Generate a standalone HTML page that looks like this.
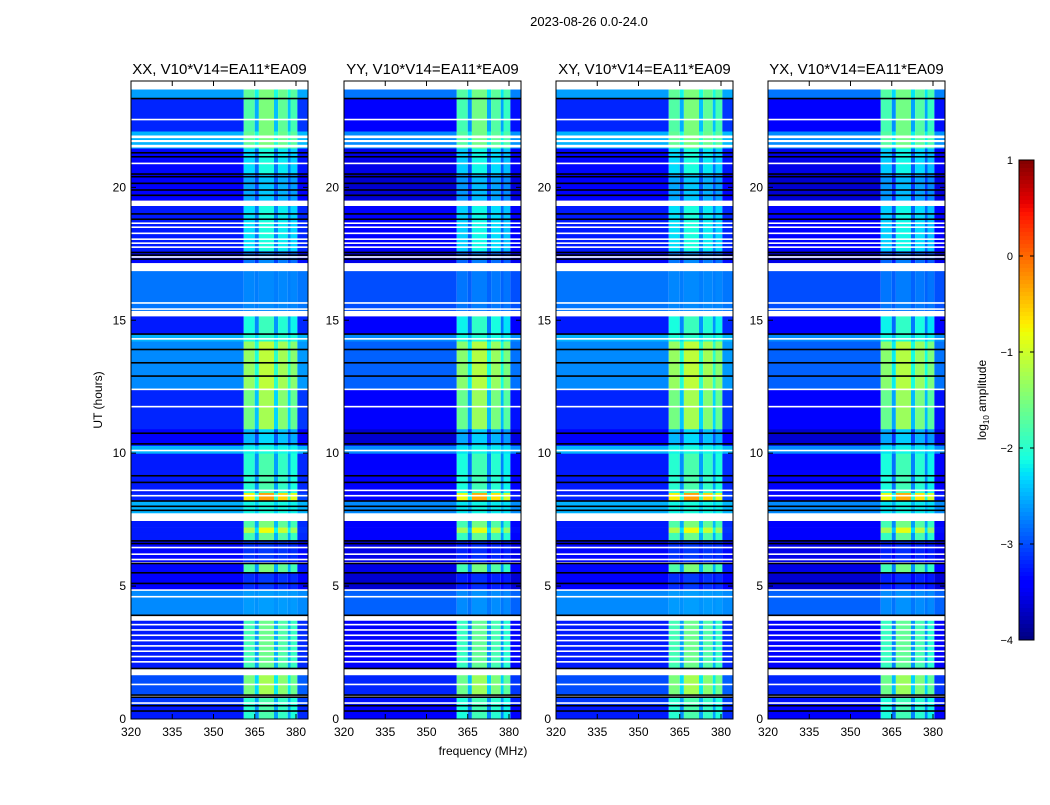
<!DOCTYPE html>
<html><head><meta charset="utf-8"><style>
body{margin:0;background:#fff;font-family:"Liberation Sans",sans-serif;}
svg text{font-family:"Liberation Sans",sans-serif;fill:#000;}
</style></head><body>
<svg id="chart" width="1050" height="800" viewBox="0 0 1050 800">
<text x="589" y="26" font-size="13" text-anchor="middle">2023-08-26 0.0-24.0</text>
<text x="483" y="755" font-size="12" text-anchor="middle">frequency (MHz)</text>
<text transform="translate(102,400) rotate(-90)" font-size="12" text-anchor="middle">UT (hours)</text>
<g id="panels"></g>
<g id="cbar"></g>
</svg>
<script>
// time segments: [startHour, endHour, offBandLog, inBandLog]
const segments = [
 [23.34,23.68,-2.6,-1.5],[22.1,23.34,-3.2,-1.5],[21.46,22.1,-2.5,-1.5],[20.5,21.46,-3.35,-2.1],
 [19.5,20.5,-3.45,-2.4],[17.6,19.3,-3.25,-2.1],[17.15,17.6,-3.35,-2.7],[15.35,16.85,-2.8,-2.7],
 [14.48,15.15,-3.25,-1.9],[14.2,14.48,-2.5,-2.0],[12.4,14.2,-2.7,-1.1],[10.9,12.4,-3.2,-1.25],
 [10.28,10.9,-3.45,-2.3],[9.98,10.28,-2.5,-2.1],[8.5,9.98,-3.25,-1.8],[8.2,8.5,-3.2,-0.3],
 [7.75,8.2,-2.5,-2.1],[7.2,7.45,-3.25,-1.5],[7.0,7.2,-3.25,-0.8],[6.7,7.0,-3.25,-1.6],
 [5.85,6.7,-3.35,-3.1],[5.5,5.85,-3.35,-1.5],[4.85,5.5,-3.45,-3.1],[3.9,4.85,-2.7,-2.6],
 [1.9,3.7,-3.25,-1.6],[0.9,1.65,-3.0,-1.25],[0.5,0.8,-3.1,-1.8],[0.0,0.5,-3.25,-1.8]
];
// fully flagged (white) intervals [start,end]
const whiteBands = [[23.68,24],[21.5,21.6],[21.7,21.78],[21.85,21.95],[19.3,19.5],[17.0,17.15],[16.85,16.95],[15.15,15.35],[7.45,7.65],[3.7,3.9],[1.65,1.8],[5.85,5.9]];
// thin flag lines [hour, colour]
const flagLines = [[23.34,'k'],[22.55,'w'],[21.3,'k'],[21.15,'k'],[20.9,'w'],[20.5,'k'],[20.4,'k'],[20.15,'k'],[19.9,'k'],[19.7,'k'],
 [19.0,'k'],[18.8,'k'],[18.65,'w'],[18.5,'w'],[18.27,'w'],[18.05,'w'],[17.9,'w'],[17.75,'w'],[17.55,'k'],[17.45,'k'],[17.3,'k'],[17.38,'w'],
 [15.65,'w'],[15.42,'w'],[14.48,'k'],[14.3,'w'],[13.9,'k'],[13.4,'k'],[12.9,'k'],[12.4,'w'],[11.75,'w'],[10.75,'k'],[10.35,'k'],[10.1,'w'],
 [9.15,'k'],[8.9,'k'],[8.6,'w'],[8.4,'w'],[8.2,'k'],[8.0,'k'],[7.85,'k'],[6.7,'k'],[6.6,'k'],[6.45,'w'],[6.2,'w'],[6.0,'w'],[5.85,'k'],[5.5,'k'],[5.1,'k'],
 [4.85,'w'],[4.6,'w'],[3.9,'k'],[3.55,'w'],[3.35,'w'],[3.15,'w'],[2.95,'w'],[2.75,'w'],[2.55,'w'],[2.35,'w'],[2.15,'w'],[1.9,'k'],[1.3,'w'],
 [0.9,'k'],[0.82,'k'],[0.5,'k'],[0.3,'k'],[0.6,'w']];
// frequency channels [startMHz,endMHz,bandWeight]
const channels = [[320,361,0],[361,365,0.85],[365,366.5,0.4],[366.5,372,1],[372,373.5,0.45],[373.5,377,0.9],[377,378,0.45],[378,380.5,0.8],[380.5,384.4,0.05]];
const panelNames = ['XX','YY','XY','YX'];
const panelShift = [0,-0.2,0,-0.2];
const panelLeft = [131,344,556,768];
const xTicks = [320,335,350,365,380];
const yTicks = [0,5,10,15,20];
const cbTicks = [1,0,-1,-2,-3,-4];

const NS='http://www.w3.org/2000/svg';
const PW=177, TOP=81, BOT=719;
const yOf = t => BOT - t*(BOT-TOP)/24;
function interp(pts,t){for(let i=1;i<pts.length;i++){if(t<=pts[i][0]){const a=pts[i-1],b=pts[i];return a[1]+(b[1]-a[1])*(t-a[0])/(b[0]-a[0]);}}return pts[pts.length-1][1];}
const JR=[[0,0],[0.35,0],[0.66,1],[0.89,1],[1,0.5]],JG=[[0,0],[0.125,0],[0.375,1],[0.64,1],[0.91,0],[1,0]],JB=[[0,0.5],[0.11,1],[0.34,1],[0.65,0],[1,0]];
function jet(v){const t=Math.max(0,Math.min(1,(v+4)/5));
 return `rgb(${Math.round(interp(JR,t)*255)},${Math.round(interp(JG,t)*255)},${Math.round(interp(JB,t)*255)})`;}
function mk(tag,attrs,parent){const e=document.createElementNS(NS,tag);for(const k in attrs)e.setAttribute(k,attrs[k]);parent.appendChild(e);return e;}
const root=document.getElementById('panels');
panelNames.forEach((nm,p)=>{
 const L=panelLeft[p]; const xOf=f=>L+(f-320)*2.75;
 const g=mk('g',{},root);
 
 
 mk('rect',{x:L,y:TOP,width:PW,height:BOT-TOP,fill:'#fff'},g);
 segments.forEach(s=>{
  channels.forEach(c=>{
   const base=s[2]+panelShift[p], band=s[3]+panelShift[p]*0.3;
   const v=base+c[2]*(band-base);
   const r=mk('rect',{x:xOf(c[0]),y:yOf(s[1]),width:xOf(Math.min(c[1],384.4))-xOf(c[0]),height:yOf(s[0])-yOf(s[1])+0.3,fill:jet(v)},g);
   
   
  });
 });
 whiteBands.forEach(w=>{const r=mk('rect',{x:L,y:yOf(w[1]),width:PW,height:yOf(w[0])-yOf(w[1]),fill:'#fff'},g);
  
  });
 flagLines.forEach(f=>{const r=mk('rect',{x:L,y:yOf(f[0])-0.8,width:PW,height:1.6,fill:f[1]==='k'?'#000':'#fff'},g);
  
  });
 mk('rect',{x:L,y:TOP,width:PW,height:BOT-TOP,fill:'none',stroke:'#000','stroke-width':1},g);
 const ttl=mk('text',{x:L+PW/2,y:74,'font-size':15,'text-anchor':'middle'},g);ttl.textContent=nm+', V10*V14=EA11*EA09';
 
 
 xTicks.forEach(f=>{const x=xOf(f);
  mk('line',{x1:x,x2:x,y1:BOT,y2:BOT-5,stroke:'#000'},g);mk('line',{x1:x,x2:x,y1:TOP,y2:TOP+5,stroke:'#000'},g);
  const t=mk('text',{x:x,y:BOT+17,'font-size':12,'text-anchor':'middle'},g);t.textContent=f;
  
  });
 yTicks.forEach(h=>{const y=yOf(h);
  mk('line',{x1:L,x2:L+5,y1:y,y2:y,stroke:'#000'},g);mk('line',{x1:L+PW,x2:L+PW-5,y1:y,y2:y,stroke:'#000'},g);
  const t=mk('text',{x:L-5,y:y+4,'font-size':12,'text-anchor':'end'},g);t.textContent=h;
  
  });
});
// colorbar
const cb=document.getElementById('cbar');


const CT=160,CB=640,CX=1019,CW=15;
for(let i=0;i<120;i++){const v=1-5*i/120;mk('rect',{x:CX,y:CT+i*4,width:CW,height:4.3,fill:jet(v-5/240)},cb);}
mk('rect',{x:CX,y:CT,width:CW,height:CB-CT,fill:'none',stroke:'#000'},cb);
cbTicks.forEach(v=>{const y=CT+(1-v)*(CB-CT)/5;
 mk('line',{x1:CX,x2:CX+4,y1:y,y2:y,stroke:'#000'},cb);mk('line',{x1:CX+CW,x2:CX+CW-4,y1:y,y2:y,stroke:'#000'},cb);
 const t=mk('text',{x:1013,y:y+4,'font-size':11,'text-anchor':'end'},cb);t.textContent=(v<0?'\u2212':'')+Math.abs(v);
 
 });
const lab=mk('text',{transform:'translate(986,400) rotate(-90)','font-size':12,'text-anchor':'middle'},cb);
lab.innerHTML='log<tspan font-size="8" dy="3">10</tspan><tspan dy="-3"> amplitude</tspan>';


</script>
</body></html>
